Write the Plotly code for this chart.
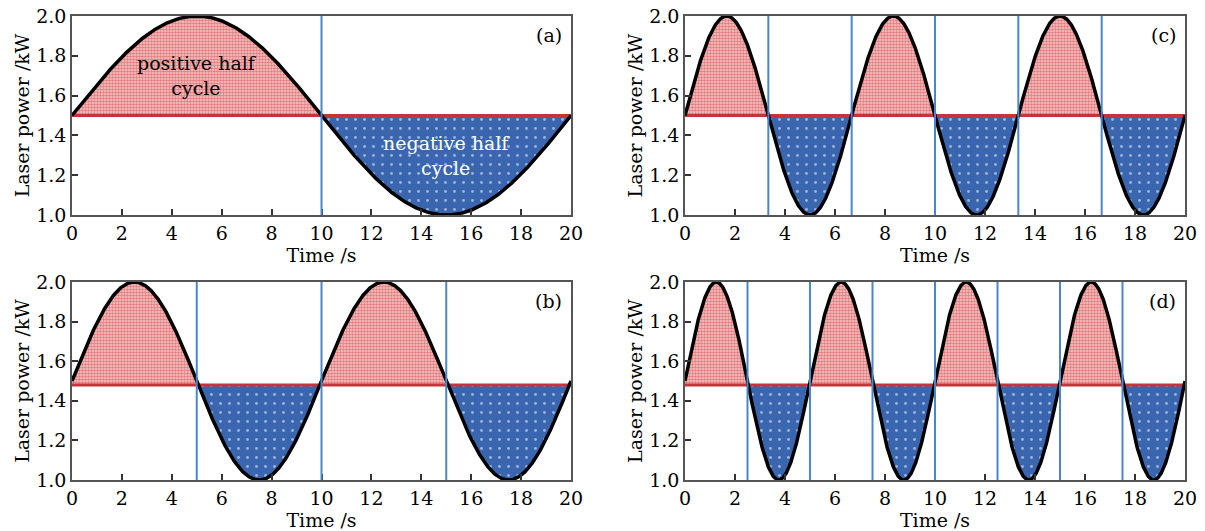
import numpy as np
import plotly.graph_objects as go

# ---- data ----
panel_labels = ["(a)", "(b)", "(c)", "(d)"]
periods = [20.0, 10.0, 20.0 / 3.0, 5.0]          # s, one sine cycle per panel
baselines = [1.5, 1.48, 1.5, 1.48]               # kW, level of the red line
center = 1.5                                       # kW, mean of the sine
amplitude = 0.5                                    # kW
x_ticks = [0, 2, 4, 6, 8, 10, 12, 14, 16, 18, 20]
y_ticks = [1.0, 1.2, 1.4, 1.6, 1.8, 2.0]
x_title = "Time /s"
y_title = "Laser power /kW"
pos_text = "positive half<br>cycle"
neg_text = "negative half<br>cycle"

FONT = "DejaVu Serif"
W, H = 1205, 531
OFF = 0  # body margin removed via post_script


def dx(px):
    return (px - OFF) / W


def dy(px):
    return 1 - (px - OFF) / H


# panel placement (target pixel boxes in the screenshot)
xdoms = {"(a)": (dx(72), dx(571)), "(b)": (dx(72), dx(571)),
         "(c)": (dx(685), dx(1185)), "(d)": (dx(685), dx(1185))}
ydoms = {"(a)": (dy(215), dy(16)), "(c)": (dy(215), dy(16)),
         "(b)": (dy(480), dy(282)), "(d)": (dy(480), dy(282))}

fig = go.Figure()
layout = dict(width=W, height=H, margin=dict(l=0, r=0, t=0, b=0),
              plot_bgcolor="white", paper_bgcolor="white", showlegend=False,
              font=dict(family=FONT, color="black"))
shapes = []
annotations = []

for i, lab in enumerate(panel_labels):
    n = i + 1
    xa = "x" if n == 1 else f"x{n}"
    ya = "y" if n == 1 else f"y{n}"
    P = periods[i]
    b = baselines[i]
    t = np.linspace(0, 20, 2001)
    y = center + amplitude * np.sin(2 * np.pi * t / P)

    # half-cycle fill polygons
    nhalf = int(round(20 / (P / 2)))
    for k in range(nhalf):
        t0, t1 = k * P / 2, (k + 1) * P / 2
        tt = np.linspace(t0, t1, 300)
        yy = center + amplitude * np.sin(2 * np.pi * tt / P)
        px = np.concatenate([tt, [t1, t0]])
        py = np.concatenate([yy, [b, b]])
        if k % 2 == 0:
            pat = dict(shape=".", fgcolor="#d02a30", bgcolor="#f6cccc", size=3, solidity=0.6)
        else:
            pat = dict(shape=".", fgcolor="white", bgcolor="#3a66b0", size=9, solidity=0.08)
        fig.add_trace(go.Scatter(x=px, y=py, mode="lines", line=dict(width=0),
                                 fill="toself", fillcolor="rgba(0,0,0,0)",
                                 fillpattern=pat, hoverinfo="skip",
                                 xaxis=xa, yaxis=ya))
    # baseline
    fig.add_trace(go.Scatter(x=[0, 20], y=[b, b], mode="lines",
                             line=dict(color="#c8323a", width=3),
                             xaxis=xa, yaxis=ya, hoverinfo="skip"))
    # vertical half-cycle boundaries
    for k in range(1, nhalf):
        xv = k * P / 2
        shapes.append(dict(type="line", xref=xa, yref=f"{ya} domain",
                           x0=xv, x1=xv, y0=0, y1=1,
                           line=dict(color="#4a86cc", width=2), layer="above"))
    # curve
    fig.add_trace(go.Scatter(x=t, y=y, mode="lines",
                             line=dict(color="black", width=3.5),
                             xaxis=xa, yaxis=ya, hoverinfo="skip", cliponaxis=True))

    axkey_x = "xaxis" if n == 1 else f"xaxis{n}"
    axkey_y = "yaxis" if n == 1 else f"yaxis{n}"
    layout[axkey_x] = dict(domain=xdoms[lab], anchor=ya, range=[0, 20],
                           automargin=False, ticklabeloverflow="allow",
                           tickvals=x_ticks, ticks="inside", ticklen=6,
                           tickcolor="#333", tickwidth=1.5,
                           showline=True, linecolor="#555", linewidth=1.5,
                           mirror=True, showgrid=False, zeroline=False,
                           tickfont=dict(family=FONT, size=19),
                           title=dict(text=x_title, standoff=0,
                                      font=dict(family=FONT, size=19)))
    layout[axkey_y] = dict(domain=ydoms[lab], anchor=xa, range=[1.0, 2.0],
                           automargin=False, ticklabeloverflow="allow",
                           tickvals=y_ticks, tickformat=".1f", ticks="inside",
                           ticklen=6, tickcolor="#333", tickwidth=1.5,
                           showline=True, linecolor="#555", linewidth=1.5,
                           mirror=True, showgrid=False, zeroline=False,
                           tickfont=dict(family=FONT, size=19),
                           title=dict(text=y_title, standoff=2,
                                      font=dict(family=FONT, size=19)))
    annotations.append(dict(text=lab, xref=f"{xa} domain", yref=f"{ya} domain",
                            x=0.985, y=0.97, xanchor="right", yanchor="top",
                            showarrow=False, font=dict(family=FONT, size=19)))

annotations.append(dict(text=pos_text, xref="x", yref="y", x=5.0, y=1.70,
                        showarrow=False, font=dict(family=FONT, size=19, color="black")))
annotations.append(dict(text=neg_text, xref="x", yref="y", x=15.0, y=1.30,
                        showarrow=False, font=dict(family=FONT, size=19, color="white")))

layout["shapes"] = shapes
layout["annotations"] = annotations
fig.update_layout(**layout)
fig.write_html("out.html", config={"displayModeBar": False},
               post_script="document.body.style.margin='0';document.body.style.overflow='hidden';")
